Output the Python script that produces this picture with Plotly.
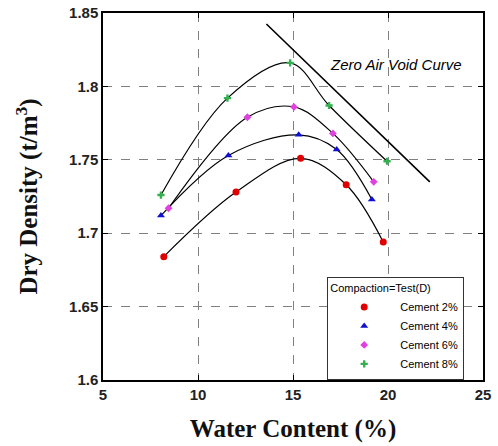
import plotly.graph_objects as go

# Data
w2 = [8.2, 12.0, 15.4, 17.8, 19.75]
d2 = [1.684, 1.728, 1.751, 1.733, 1.694]
w4 = [8.05, 11.6, 15.3, 17.3, 19.15]
d4 = [1.712, 1.753, 1.767, 1.757, 1.723]
w6 = [8.45, 12.6, 15.05, 17.1, 19.25]
d6 = [1.717, 1.779, 1.786, 1.768, 1.735]
w8 = [8.05, 11.55, 14.85, 16.9, 19.95]
d8 = [1.726, 1.792, 1.816, 1.787, 1.749]
zav_w = [13.6, 22.2]
zav_d = [1.8425, 1.735]

series = [
    ("Cement 2%", w2, d2, "#e00000", "circle", 7),
    ("Cement 4%", w4, d4, "#1010d0", "triangle-up", 7),
    ("Cement 6%", w6, d6, "#e040e0", "diamond", 6),
    ("Cement 8%", w8, d8, "#33b050", "cross", 6),
]

fig = go.Figure()
for name, w, d, c, sym, sz in series:
    fig.add_trace(go.Scatter(x=w, y=d, mode="lines", line=dict(color="black", width=1.2, shape="spline", smoothing=1.0),
                             showlegend=False, hoverinfo="skip"))
for name, w, d, c, sym, sz in series:
    fig.add_trace(go.Scatter(x=w, y=d, mode="markers", name=name,
                             marker=dict(color=c, symbol=sym, size=sz)))
fig.add_trace(go.Scatter(x=zav_w, y=zav_d, mode="lines", line=dict(color="black", width=1.6), showlegend=False))

fig.add_annotation(x=20.4, y=1.815, xref="x", yref="y", text="<i>Zero Air Void Curve</i>", showarrow=False,
                   font=dict(family="Liberation Sans, Arial", size=15, color="black"))

axis_common = dict(showgrid=True, gridcolor="#808080", griddash="dash", gridwidth=1,
                   showline=True, linecolor="black", linewidth=1.5, mirror="ticks",
                   ticks="inside", ticklen=5, tickcolor="black", zeroline=False, automargin=False,
                   tickfont=dict(family="Liberation Sans, Arial", size=15, color="#222"))

fig.update_xaxes(range=[5, 25], dtick=5, **axis_common,
                 title=dict(text="<b>Water Content (%)</b>", font=dict(family="Liberation Serif, Times New Roman", size=25, color="#111"), standoff=18))
fig.update_yaxes(range=[1.6, 1.85], dtick=0.05, **axis_common,
                 title=dict(text="<b>Dry Density (t/m<sup>3</sup>)</b>", font=dict(family="Liberation Serif, Times New Roman", size=25, color="#111"), standoff=24))

fig.update_layout(
    width=498, height=446,
    margin=dict(l=103, r=15, t=13, b=66),
    plot_bgcolor="white", paper_bgcolor="white",
    legend=dict(x=0.59, y=0.14, xanchor="left", yanchor="middle",
                bgcolor="white", bordercolor="#333", borderwidth=1,
                font=dict(family="Liberation Sans, Arial", size=11, color="black"),
                title=dict(text="Compaction=Test(D)", font=dict(size=11)),
                tracegroupgap=0, itemsizing="trace", itemwidth=62),
)
fig.update_xaxes(tickprefix="<b>", ticksuffix="</b>")
fig.update_yaxes(tickprefix="<b>", ticksuffix="</b>")

fig.write_html("out.html")
